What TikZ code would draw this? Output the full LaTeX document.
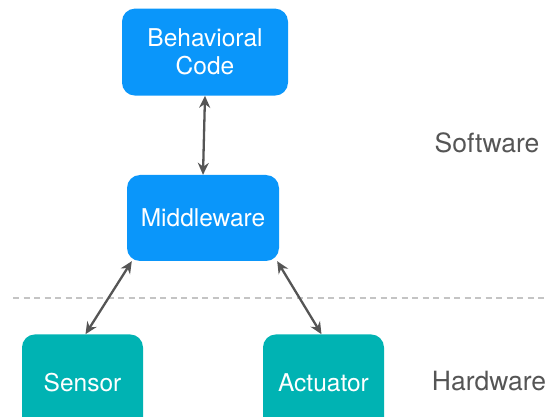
\documentclass[tikz,border=0pt]{standalone}
\usepackage{fontspec}
\setmainfont{TeX Gyre Heros}
\usetikzlibrary{positioning,arrows.meta}

\definecolor{swblue}{HTML}{0A96FA}
\definecolor{hwteal}{HTML}{00B3B3}
\definecolor{linkgray}{HTML}{555555}
\definecolor{sepgray}{HTML}{C4C4C4}

\tikzset{
	box/.style={rounded corners=13pt, text=white, align=center,
		font=\fontsize{24.5}{28}\selectfont, inner sep=0pt},
	sw/.style={box, fill=swblue},
	hw/.style={box, fill=hwteal, minimum width=121pt, minimum height=96pt},
	link/.style={linkgray, line width=2.3pt,
		{Stealth[length=12pt,width=11pt]}-{Stealth[length=12pt,width=11pt]}},
	layer/.style={text=linkgray, font=\fontsize{26.5}{30}\selectfont}
}

\begin{document}
\begin{tikzpicture}[x=1pt, y=-1pt]
		\useasboundingbox (0,0) rectangle (547,417);
		
		% software side
		\node [sw, minimum width=152pt, minimum height=86pt] (mw) at (203,218) {Middleware};
		\node [sw, minimum width=166pt, minimum height=87pt, above=79pt of mw, xshift=2pt] (beh) {Behavioral\\Code};
		
		% hardware side
		\node [hw, below=73pt of mw, anchor=north, xshift=-120.5pt] (sensor) {Sensor};
		\node [hw, below=73pt of mw, anchor=north, xshift=120.5pt] (act) {Actuator};
		
		% layer split
		\draw [sepgray, line width=2pt, dash pattern=on 6pt off 4.5pt] (13,298) -- (547,298);
		\node [layer] (swlabel) at (487,143) {Software};
		\node [layer] (hwlabel) at (489,381) {Hardware};
		
		\draw [link] (beh.south) -- (mw.north);
		\draw [link] ([xshift=3pt]sensor.north) -- ([xshift=5pt]mw.south west);
		\draw [link] ([xshift=-2pt]act.north) -- ([xshift=-2pt]mw.south east);
	\end{tikzpicture}
\end{document}
